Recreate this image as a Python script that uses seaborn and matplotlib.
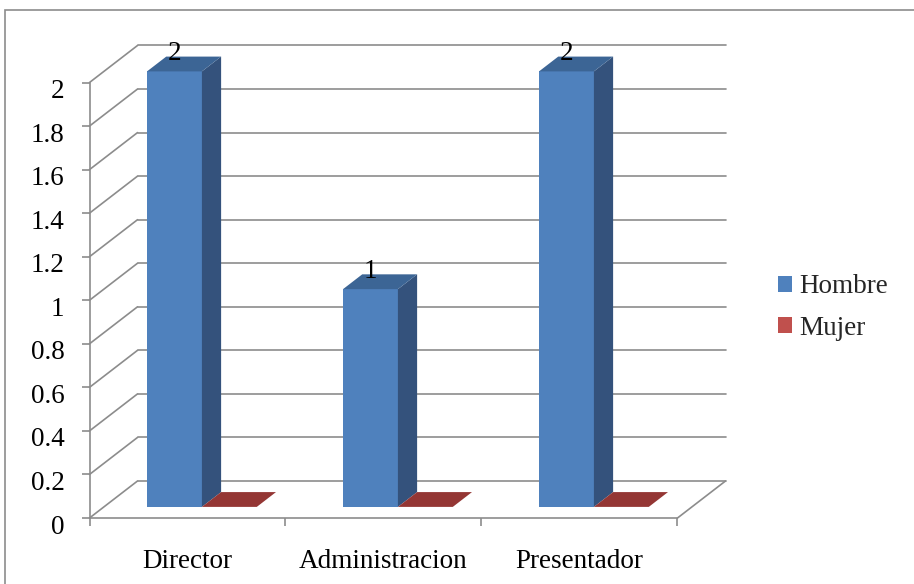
import pandas as pd
import matplotlib
matplotlib.use("Agg")
import matplotlib.pyplot as plt
from matplotlib.patches import Polygon, Patch, Rectangle
from matplotlib.transforms import ScaledTranslation
import seaborn as sns

# datos
puestos = ["Director", "Administracion", "Presentador"]
hombre = [2, 1, 2]
mujer = [0, 0, 0]
series = ["Hombre", "Mujer"]
y_ticks = [0, 0.2, 0.4, 0.6, 0.8, 1.0, 1.2, 1.4, 1.6, 1.8, 2.0]
y_tick_labels = ["0", "0.2", "0.4", "0.6", "0.8", "1", "1.2", "1.4", "1.6", "1.8", "2"]

sns.set_theme(style="white")
plt.rcParams['font.family'] = ['Liberation Serif', 'DejaVu Serif']
fs = 19.5

col_frente = {"Hombre": "#4f81bd", "Mujer": "#c0504d"}
col_lado = {"Hombre": "#34527c", "Mujer": "#7d2b29"}
col_techo = {"Hombre": "#3c6595", "Mujer": "#943634"}
gris = "#8c8c8c"

df = pd.DataFrame({
    "Puesto": puestos * 2,
    "Cantidad": hombre + mujer,
    "Sexo": ["Hombre"] * 3 + ["Mujer"] * 3,
})

fig = plt.figure(figsize=(9.14, 5.84), dpi=100)
ax = fig.add_axes([89.5 / 914, 66 / 584, 588 / 914, 435.5 / 584])
sns.barplot(data=df, x="Puesto", y="Cantidad", hue="Sexo", palette=col_frente,
            width=0.56, saturation=1, legend=False, ax=ax, linewidth=0, zorder=3)
ax.set_xlim(-0.5, 2.5)
ax.set_ylim(0, 2)
ax.set_xlabel("")
ax.set_ylabel("")

# profundidad (efecto 3D oblicuo)
kx, ky = 0.245, 0.17
z0, z1 = 0.3, 0.7

def p(x, y, z):
    return (x + z * kx, y + z * ky)

# paredes y rejilla
for t in y_ticks:
    ax.plot([-0.5, -0.5 + kx], [t, t + ky], color=gris, lw=1.2, clip_on=False, zorder=1)
    ax.plot([-0.5 + kx, 2.5 + kx], [t + ky, t + ky], color=gris, lw=1.2, clip_on=False, zorder=1)
ax.plot([2.5, 2.5 + kx], [0, ky], color=gris, lw=1.2, clip_on=False, zorder=1)

# barras
for s, cont in zip(series, ax.containers):
    for bar in cont:
        x0, w, h = bar.get_x(), bar.get_width(), bar.get_height()
        bar.set_x(x0 + z0 * kx)
        bar.set_y(z0 * ky)
        bar.set_clip_on(False)
        lado = [p(x0 + w, 0, z0), p(x0 + w, h, z0), p(x0 + w, h, z1), p(x0 + w, 0, z1)]
        techo = [p(x0, h, z0), p(x0 + w, h, z0), p(x0 + w, h, z1), p(x0, h, z1)]
        ax.add_patch(Polygon(lado, closed=True, facecolor=col_lado[s], edgecolor="none",
                             clip_on=False, zorder=3))
        ax.add_patch(Polygon(techo, closed=True, facecolor=col_techo[s], edgecolor="none",
                             clip_on=False, zorder=3))
        if h > 0:
            ax.annotate(f"{h:g}", xy=p(x0 + w / 2, h, z0), xytext=(0, 4),
                        textcoords="offset points", ha="center", va="bottom",
                        fontsize=fs, color="black", zorder=5, annotation_clip=False)

# ejes
for lado_eje in ["top", "right"]:
    ax.spines[lado_eje].set_visible(False)
for lado_eje in ["left", "bottom"]:
    ax.spines[lado_eje].set_color(gris)
    ax.spines[lado_eje].set_linewidth(1.2)
ax.set_yticks(y_ticks, y_tick_labels)
ax.set_xticks([-0.5, 0.5, 1.5, 2.5], minor=True)
ax.tick_params(axis="y", left=True, length=6, width=1.2, color=gris, pad=12,
               labelsize=fs, labelcolor="black")
ax.tick_params(axis="x", which="major", bottom=True, length=0, pad=22,
               labelsize=fs, labelcolor="black")
ax.tick_params(axis="x", which="minor", bottom=True, length=6, width=1.2, color=gris)
bajar = ScaledTranslation(0, -6 / 100, fig.dpi_scale_trans)
for lab in ax.get_yticklabels():
    lab.set_transform(lab.get_transform() + bajar)

# leyenda
handles = [Patch(facecolor=col_frente[s], edgecolor="none") for s in series]
fig.legend(handles, series, loc="upper left", bbox_to_anchor=(754 / 914, 1 - 250 / 584),
           frameon=False, handlelength=0.52, handleheight=0.52, handletextpad=0.26,
           labelspacing=0.6, fontsize=fs)

# borde del área del gráfico
fig.patches.append(Rectangle((5 / 914, -0.02), 1.0, 1.02 - 10 / 584,
                             transform=fig.transFigure, fill=False, edgecolor=gris, lw=1.2))

fig.savefig("out.png", dpi=100)
